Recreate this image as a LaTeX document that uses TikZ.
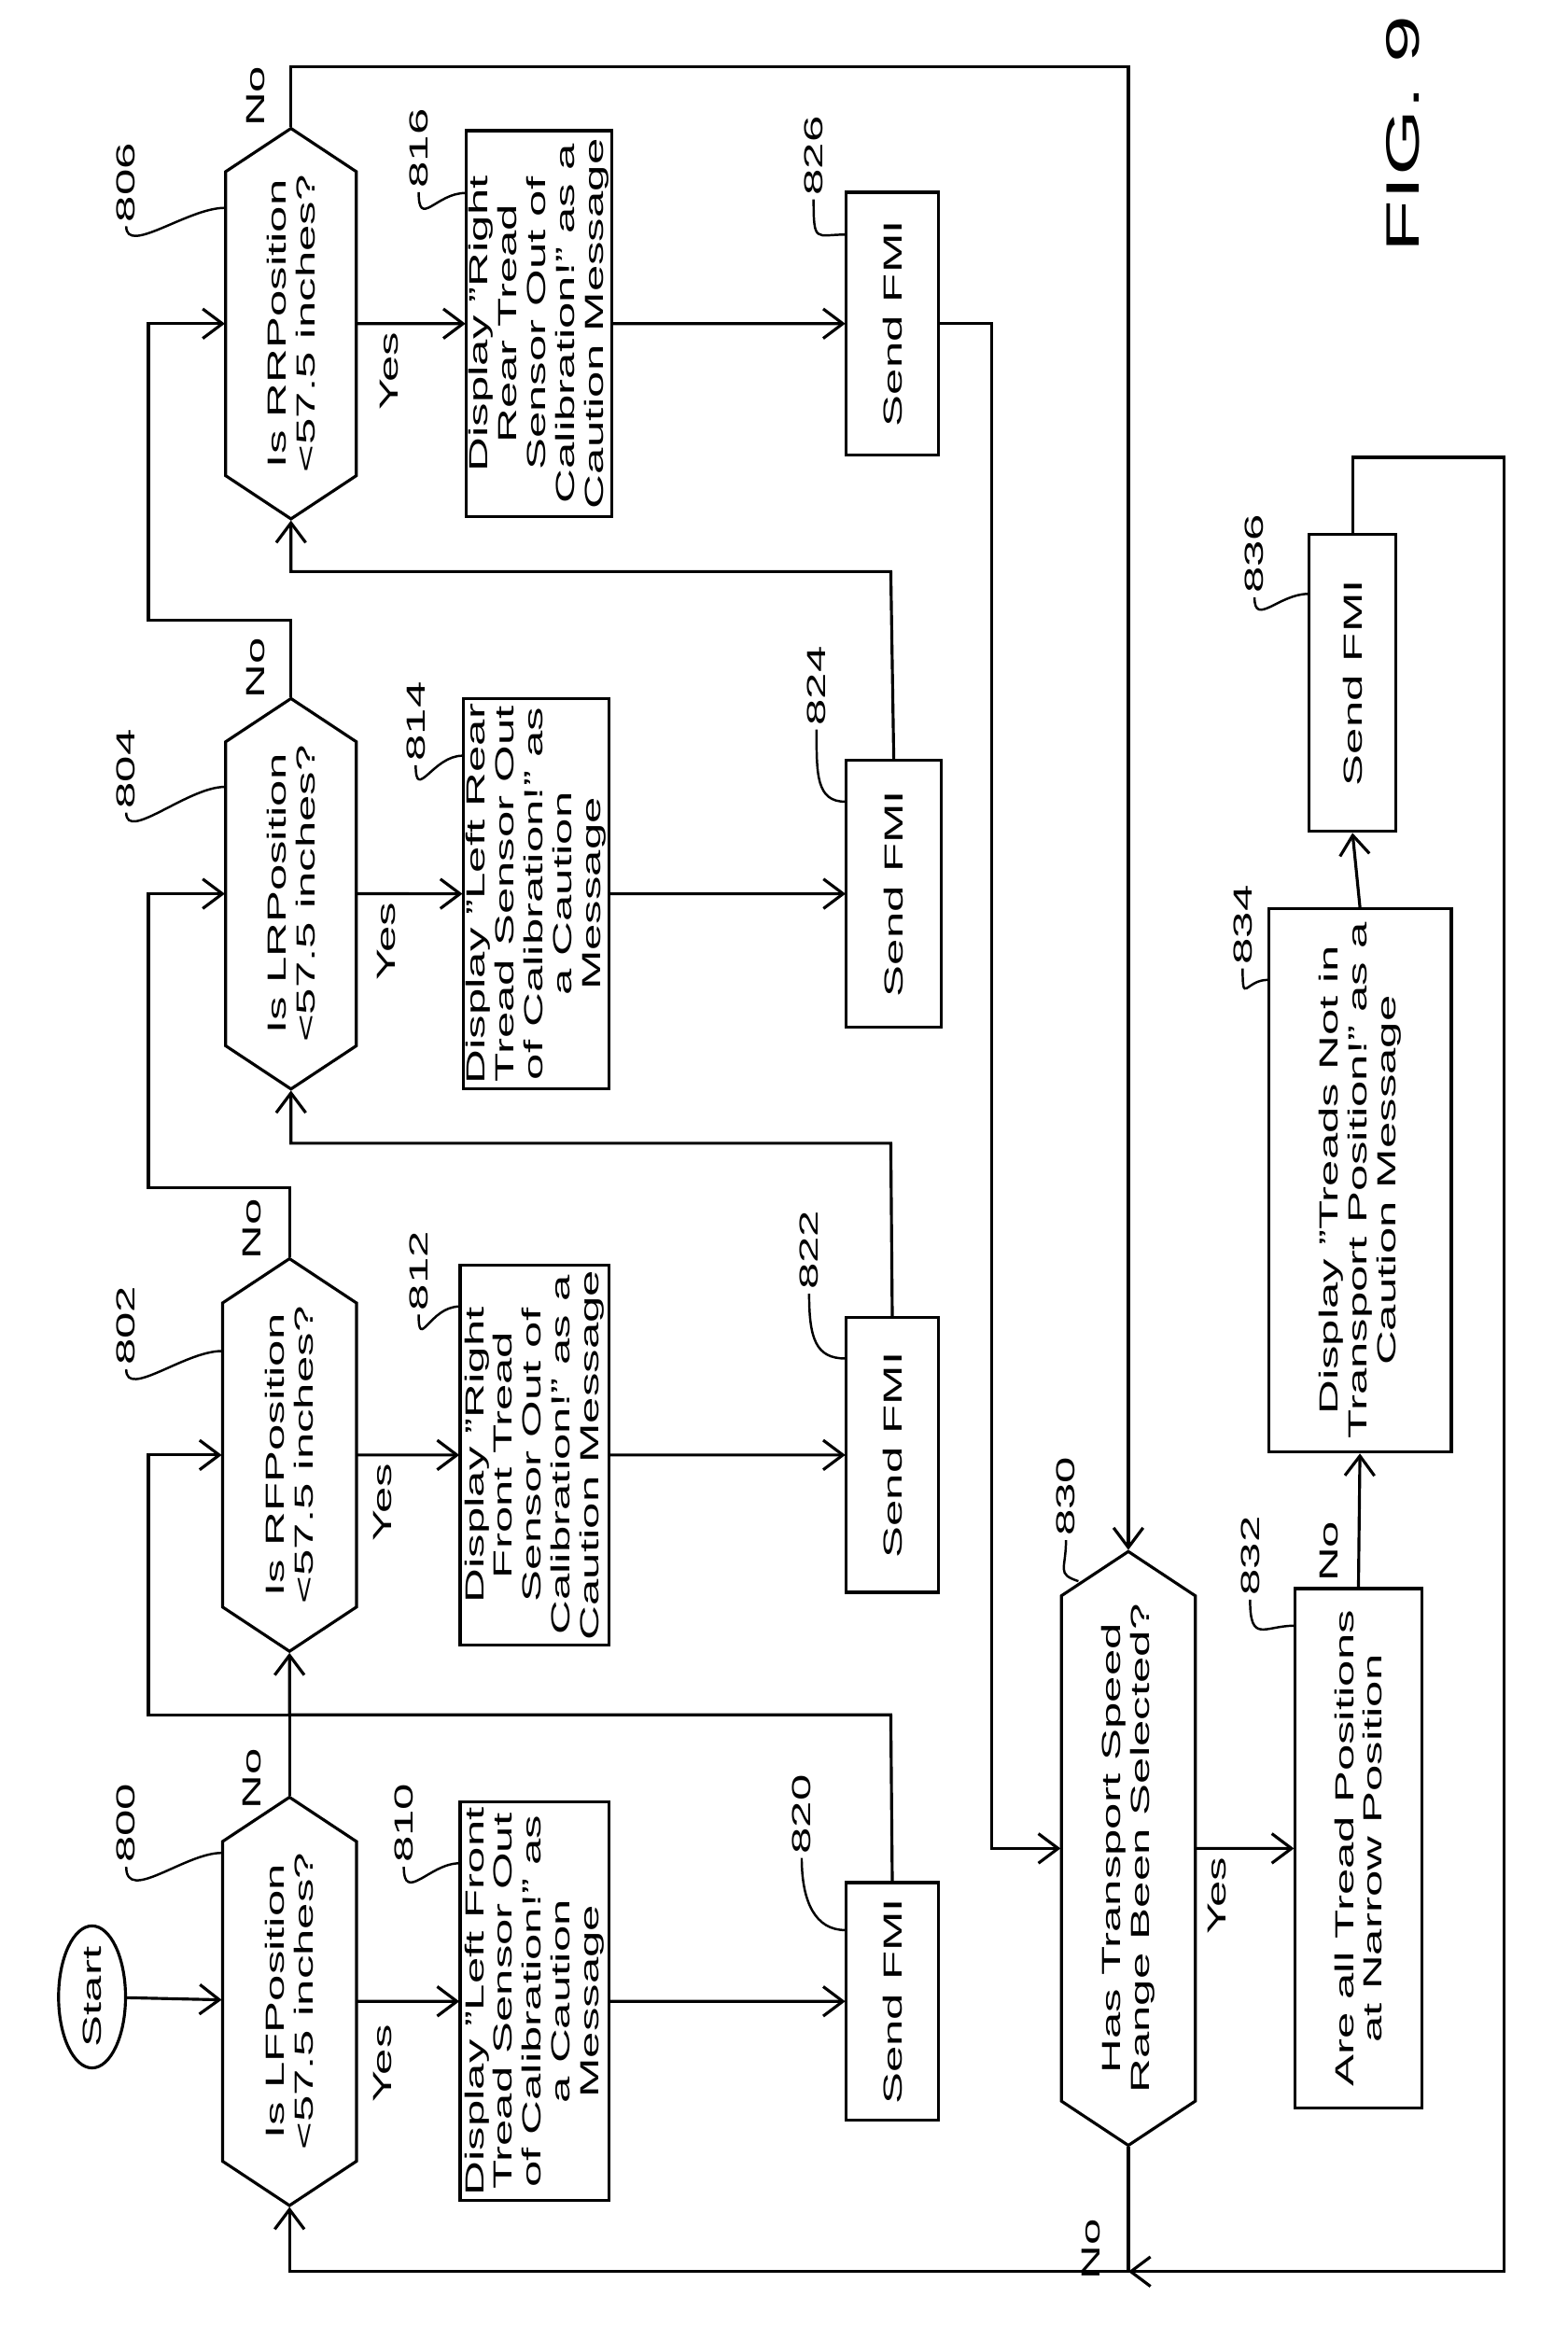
\documentclass[tikz,border=0pt]{standalone}
\usepackage{fontspec}
\setmainfont{Liberation Sans}
\usetikzlibrary{arrows.meta}
\usetikzlibrary{calc}
\usetikzlibrary{shapes.geometric, shapes.symbols}
\newlength\px
\setlength\px{0.1591mm}
\tikzset{
  txt/.style={font=\fontsize{14.5}{16}\selectfont, align=center, rotate=90, yscale=0.55},
  box/.style={txt, draw, line width=0.9pt, inner sep=1.5pt},
  decide/.style={txt, draw, line width=0.9pt, signal, signal to=east and west,
    signal pointer angle=140, inner sep=1pt},
  arr/.style={line width=0.9pt, -{Straight Barb[length=6pt,width=9pt]}},
  ln/.style={line width=0.9pt},
  lead/.style={line width=0.7pt},
  num/.style={txt, inner sep=1pt}
}
\begin{document}
\begin{tikzpicture}[x=0.1591mm, y=-0.1591mm]
  \useasboundingbox (0,0) rectangle (1056,1566);
  % start and the four position checks
  \node[txt, draw, line width=0.9pt, ellipse, minimum width=95\px, minimum height=82\px, inner sep=0pt] (start) at (62,1345) {Start};
  \node[decide, minimum width=275\px, minimum height=164\px] (d800) at (195,1348) {Is LFPosition\\<57.5 inches?};
  \node[decide, minimum width=242\px, minimum height=164\px] (d802) at (195,980) {Is RFPosition\\<57.5 inches?};
  \node[decide, minimum width=237\px, minimum height=160\px] (d804) at (196,602) {Is LRPosition\\<57.5 inches?};
  \node[decide, minimum width=255\px, minimum height=160\px] (d806) at (196,218) {Is RRPosition\\<57.5 inches?};
  % caution messages
  \node[box, minimum width=245\px, minimum height=182\px] (b810) at (360,1348) {Display "Left Front\\Tread Sensor Out\\of Calibration!" as\\a Caution\\Message};
  \node[box, minimum width=240\px, minimum height=182\px] (b812) at (360,980) {Display "Right\\Front Tread\\Sensor Out of\\Calibration!" as a\\Caution Message};
  \node[box, minimum width=225\px, minimum height=178\px] (b814) at (361,602) {Display "Left Rear\\Tread Sensor Out\\of Calibration!" as\\a Caution\\Message};
  \node[box, minimum width=260\px, minimum height=177\px] (b816) at (363,218) {Display "Right\\Rear Tread\\Sensor Out of\\Calibration!" as a\\Caution Message};
  % send FMI
  \node[box, minimum width=160\px, minimum height=113\px] (s820) at (601,1348) {Send FMI};
  \node[box, minimum width=185\px, minimum height=113\px] (s822) at (601,980) {Send FMI};
  \node[box, minimum width=180\px, minimum height=116\px] (s824) at (602,602) {Send FMI};
  \node[box, minimum width=177\px, minimum height=113\px] (s826) at (601,218) {Send FMI};
  % transport check
  \node[decide, minimum width=400\px, minimum height=164\px] (d830) at (760,1245) {Has Transport Speed\\Range Been Selected?};
  \node[box, minimum width=350\px, minimum height=156\px] (b832) at (915,1245) {Are all Tread Positions\\at Narrow Position};
  \node[box, minimum width=366\px, minimum height=224\px] (b834) at (916,795) {Display "Treads Not in\\Transport Position!" as a\\Caution Message};
  \node[box, minimum width=200\px, minimum height=106\px] (s836) at (911,460) {Send FMI};
  \node[txt, font=\fontsize{26}{30}\selectfont] (fig) at (945,90) {FIG. 9};
  % bend points
  \coordinate (c1) at (100,1155);
  \coordinate (c2) at (100,800);
  \coordinate (c3) at (100,418);
  \coordinate (r1) at (600,1155);
  \coordinate (r2) at (600,770);
  \coordinate (r3) at (600,385);
  \coordinate (c4) at (760,45);
  \coordinate (c5) at (668,218);
  \coordinate (c6) at (1013,308);
  \coordinate (c7) at (1013,1530);
  \coordinate (c8) at (760,1530);
  % connectors
  \draw[arr] (start) -- (d800);
  \draw[arr] (d800) -- (b810);
  \draw[arr] (b810) -- (s820);
  \draw[arr] (d802) -- (b812);
  \draw[arr] (b812) -- (s822);
  \draw[arr] (d804) -- (b814);
  \draw[arr] (b814) -- (s824);
  \draw[arr] (d806) -- (b816);
  \draw[arr] (b816) -- (s826);
  \draw[arr] (d800.east) |- (c1) |- (d802.north);
  \draw[arr] (d802.east) |- (c2) |- (d804.north);
  \draw[arr] (d804.east) |- (c3) |- (d806.north);
  \draw[arr] (s820.east) -- (r1) -| (d802.west);
  \draw[arr] (s822.east) -- (r2) -| (d804.west);
  \draw[arr] (s824.east) -- (r3) -| (d806.west);
  \draw[arr] (d806.east) |- (c4) -- (d830.east);
  \draw[arr] (s826.south) -- (c5) |- (d830.north);
  \draw[arr] (d830) -- (b832);
  \draw[arr] (b832.east) -- (b834.west);
  \draw[arr] (b834.east) -- (s836.west);
  \draw[arr] (s836.east) |- (c6) -- (c7) -- (c8);
  \draw[arr] (d830.west) -- (c8) -| (d800.west);
  % branch labels
  \node[txt] (y800) at (258,1390) {Yes};
  \node[txt] (y802) at (258,1012) {Yes};
  \node[txt] (y804) at (260,634) {Yes};
  \node[txt] (y806) at (262,250) {Yes};
  \node[txt] (y830) at (820,1277) {Yes};
  \node[txt] (n800) at (170,1198) {No};
  \node[txt] (n802) at (170,828) {No};
  \node[txt] (n804) at (172,450) {No};
  \node[txt] (n806) at (172,65) {No};
  \node[txt] (n830) at (735,1515) {No};
  \node[txt] (n832) at (895,1045) {No};
  % reference numbers
  \node[num] (r800) at (85,1228) {800};
  \node[num] (r810) at (272,1228) {810};
  \node[num] (r820) at (540,1222) {820};
  \node[num] (r802) at (85,893) {802};
  \node[num] (r812) at (282,856) {812};
  \node[num] (r822) at (545,842) {822};
  \node[num] (r804) at (85,518) {804};
  \node[num] (r814) at (280,486) {814};
  \node[num] (r824) at (550,462) {824};
  \node[num] (r806) at (85,123) {806};
  \node[num] (r816) at (282,100) {816};
  \node[num] (r826) at (548,105) {826};
  \node[num] (r830) at (718,1008) {830};
  \node[num] (r832) at (842,1048) {832};
  \node[num] (r834) at (837,623) {834};
  \node[num] (r836) at (845,373) {836};
  \draw[lead] (r800.west) .. controls +(0,25) and +(-25,0) .. ($(d800.north)+(0,-100)$);
  \draw[lead] (r810.west) .. controls +(0,25) and +(-20,0) .. ($(b810.north)+(0,-93)$);
  \draw[lead] (r820.west) .. controls +(0,30) and +(-20,0) .. ($(s820.north)+(0,-48)$);
  \draw[lead] (r802.west) .. controls +(0,20) and +(-25,0) .. ($(d802.north)+(0,-70)$);
  \draw[lead] (r812.west) .. controls +(0,25) and +(-20,0) .. ($(b812.north)+(0,-100)$);
  \draw[lead] (r822.west) .. controls +(0,30) and +(-20,0) .. ($(s822.north)+(0,-65)$);
  \draw[lead] (r804.west) .. controls +(0,20) and +(-25,0) .. ($(d804.north)+(0,-72)$);
  \draw[lead] (r814.west) .. controls +(0,25) and +(-20,0) .. ($(b814.north)+(0,-93)$);
  \draw[lead] (r824.west) .. controls +(0,30) and +(-20,0) .. ($(s824.north)+(0,-62)$);
  \draw[lead] (r806.west) .. controls +(0,20) and +(-25,0) .. ($(d806.north)+(0,-78)$);
  \draw[lead] (r816.west) .. controls +(0,25) and +(-20,0) .. ($(b816.north)+(0,-88)$);
  \draw[lead] (r826.west) .. controls +(0,30) and +(-20,0) .. ($(s826.north)+(0,-60)$);
  \draw[lead] (r830.west) .. controls +(0,20) and +(-15,-5) .. ($(d830.north)+(12,-180)$);
  \draw[lead] (r832.west) .. controls +(0,30) and +(-20,0) .. ($(b832.north)+(0,-150)$);
  \draw[lead] (r834.west) .. controls +(0,25) and +(-15,0) .. ($(b834.north)+(0,-135)$);
  \draw[lead] (r836.west) .. controls +(0,20) and +(-20,0) .. ($(s836.north)+(0,-60)$);
\end{tikzpicture}
\end{document}
